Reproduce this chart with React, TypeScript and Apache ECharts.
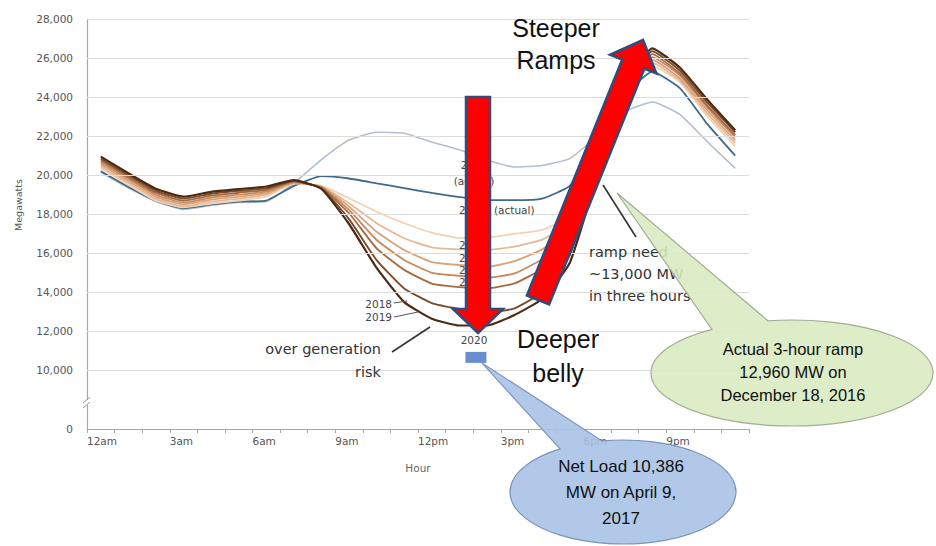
import React, { useEffect, useRef } from 'react';
import * as echarts from 'echarts';

// Hour-ending sample positions (half past each hour)
const HOURS = [0.5, 1.5, 2.5, 3.5, 4.5, 5.5, 6.5, 7.5, 8.5, 9.5, 10.5, 11.5, 12.5, 13.5, 14.5, 15.5, 16.5, 17.5, 18.5, 19.5, 20.5, 21.5, 22.5, 23.5];
const HOUR_LABELS = ['12am', '3am', '6am', '9am', '12pm', '3pm', '6pm', '9pm'];
const MW_TICKS = [10000, 12000, 14000, 16000, 18000, 20000, 22000, 24000, 26000, 28000];
// Bottom of the broken axis, labelled 0
const AXIS_FLOOR = 7000;

const NET_LOAD_2012 = [20150, 19350, 18650, 18250, 18450, 18600, 18650, 19600, 20800, 21800, 22200, 22150, 21700, 21300, 20780, 20420, 20500, 20850, 22000, 23250, 23750, 23100, 21700, 20350];
const NET_LOAD_2013 = [20200, 19400, 18700, 18300, 18500, 18650, 18700, 19450, 19950, 19830, 19580, 19340, 19090, 18880, 18720, 18720, 18800, 19450, 21500, 24100, 25300, 24450, 22600, 21000];
const NET_LOAD_2014 = [20350, 19500, 18700, 18350, 18550, 18700, 18900, 19580, 19450, 18820, 18130, 17540, 17060, 16780, 16800, 17000, 17200, 17900, 21300, 24200, 25600, 24750, 23000, 21500];
const NET_LOAD_2015 = [20450, 19600, 18800, 18400, 18650, 18800, 19000, 19600, 19420, 18560, 17540, 16770, 16300, 16200, 16170, 16340, 16700, 17600, 21000, 24200, 25750, 24850, 23150, 21650];
const NET_LOAD_2016 = [20550, 19700, 18900, 18500, 18750, 18900, 19080, 19620, 19400, 18390, 17100, 16170, 15550, 15400, 15300, 15600, 16200, 17300, 20800, 24300, 25900, 24950, 23300, 21800];
const NET_LOAD_2017 = [20650, 19800, 19000, 18600, 18850, 19000, 19170, 19650, 19380, 18220, 16680, 15660, 15000, 14850, 14750, 14970, 15700, 17000, 20600, 24300, 26050, 25100, 23450, 21950];
const NET_LOAD_2018 = [20750, 19900, 19100, 18700, 18950, 19100, 19250, 19680, 19350, 18050, 16250, 15150, 14450, 14270, 14200, 14460, 15200, 16600, 20400, 24400, 26200, 25200, 23550, 22050];
const NET_LOAD_2019 = [20850, 20000, 19200, 18800, 19050, 19200, 19330, 19700, 19320, 17750, 15650, 14200, 13450, 13150, 12950, 13180, 14000, 15900, 20200, 24400, 26350, 25350, 23700, 22200];
const NET_LOAD_2020 = [20950, 20100, 19300, 18900, 19150, 19290, 19420, 19750, 19300, 17500, 15250, 13500, 12650, 12300, 12300, 12840, 13660, 15500, 20000, 24500, 26500, 25500, 23850, 22300];

const SERIES_NAMES = ['2012 (actual)', '2013 (actual)', '2014', '2015', '2016', '2017', '2018', '2019', '2020'];
const SERIES_VALUES = [NET_LOAD_2012, NET_LOAD_2013, NET_LOAD_2014, NET_LOAD_2015, NET_LOAD_2016, NET_LOAD_2017, NET_LOAD_2018, NET_LOAD_2019, NET_LOAD_2020];
const SERIES_COLORS = ['#b3bfcd', '#3f6a8e', '#f1d2b6', '#e6b994', '#d9a27a', '#c6895d', '#a56a40', '#7c4b29', '#4a2b15'];
const SERIES_WIDTHS = [1.6, 1.8, 1.8, 1.8, 1.8, 1.8, 1.8, 1.9, 2.2];

// Minimum net load observed on April 9, 2017
const APRIL_2017_HOUR = 14.1;
const APRIL_2017_MW = 10386;

const CHART_FONT = '"DejaVu Sans", Lato, sans-serif';
const CALLOUT_FONT = '"Liberation Sans", Arial, sans-serif';

const withCommas = (v: number) => String(v).replace(/\B(?=(\d{3})+(?!\d))/g, ',');

// Ellipse callout with a wedge tail, as one closed path
function calloutPath(tip: number[], cx: number, cy: number, rx: number, ry: number, x1: number, x2: number) {
  const topY = (x: number) => cy - ry * Math.sqrt(1 - ((x - cx) / rx) ** 2);
  const y1 = topY(x1);
  const y2 = topY(x2);
  return `M ${tip[0]} ${tip[1]} L ${x1} ${y1} A ${rx} ${ry} 0 1 0 ${x2} ${y2} Z`;
}

function arrowPoints(tail: number[], tip: number[], shaftHalf: number, headHalf: number, headLen: number) {
  const dx = tip[0] - tail[0];
  const dy = tip[1] - tail[1];
  const len = Math.hypot(dx, dy);
  const ux = dx / len, uy = dy / len;
  const px = -uy, py = ux;
  const bx = tip[0] - ux * headLen, by = tip[1] - uy * headLen;
  return [
    [tail[0] - px * shaftHalf, tail[1] - py * shaftHalf],
    [bx - px * shaftHalf, by - py * shaftHalf],
    [bx - px * headHalf, by - py * headHalf],
    [tip[0], tip[1]],
    [bx + px * headHalf, by + py * headHalf],
    [bx + px * shaftHalf, by + py * shaftHalf],
    [tail[0] + px * shaftHalf, tail[1] + py * shaftHalf],
  ];
}

function txt(text: string, x: number, y: number, size: number, align: string, opts: any = {}) {
  return {
    type: 'text',
    x,
    y,
    z: opts.z ?? 40,
    silent: true,
    rotation: opts.rotation ?? 0,
    style: {
      text,
      fill: opts.fill ?? '#444',
      fontSize: size,
      fontFamily: opts.font ?? CHART_FONT,
      textAlign: align,
      align,
      textVerticalAlign: 'middle',
      verticalAlign: 'middle',
    },
  };
}

function seg(x1: number, y1: number, x2: number, y2: number, color = '#333', width = 1.2, z = 40) {
  return { type: 'line', z, silent: true, shape: { x1, y1, x2, y2 }, style: { stroke: color, lineWidth: width } };
}

export default function App() {
  const ref = useRef<HTMLDivElement>(null);

  useEffect(() => {
    if (!ref.current) return;
    const chart = echarts.init(ref.current, null, { renderer: 'svg' });

    const lineSeries = SERIES_VALUES.map((vals, i) => ({
      name: SERIES_NAMES[i],
      type: 'line',
      data: HOURS.map((h, j) => [h, vals[j]]),
      symbol: 'none',
      silent: true,
      smooth: 0.15,
      z: 3,
      lineStyle: { color: SERIES_COLORS[i], width: SERIES_WIDTHS[i] },
      itemStyle: { color: SERIES_COLORS[i] },
    }));

    chart.setOption({
      animation: false,
      backgroundColor: '#ffffff',
      grid: { left: 87, right: 187, top: 19, bottom: 117 },
      xAxis: {
        type: 'value',
        min: 0,
        max: 24,
        interval: 1,
        name: 'Hour',
        nameLocation: 'middle',
        nameGap: 33,
        nameTextStyle: { color: '#666', fontSize: 10.5, fontFamily: CHART_FONT },
        axisLine: { show: true, lineStyle: { color: '#a8a8a8', width: 1.2 } },
        axisTick: { show: true, length: 4, lineStyle: { color: '#a8a8a8' } },
        splitLine: { show: false },
        axisLabel: {
          color: '#555',
          fontSize: 10.5,
          fontFamily: CHART_FONT,
          align: 'left',
          margin: 6,
          formatter: (v: number) => (v % 3 === 0 && v < 24 ? HOUR_LABELS[v / 3] : ''),
        },
      },
      yAxis: {
        type: 'value',
        min: AXIS_FLOOR,
        max: 28000,
        interval: 1000,
        axisLine: { show: true, lineStyle: { color: '#a8a8a8', width: 1.2 } },
        axisTick: { show: false },
        splitLine: { show: false },
        axisLabel: {
          color: '#555',
          fontSize: 10.5,
          fontFamily: CHART_FONT,
          margin: 14,
          formatter: (v: number) => (v === AXIS_FLOOR ? '0' : MW_TICKS.includes(v) ? withCommas(v) : ''),
        },
      },
      series: [
        {
          name: 'gridlines',
          type: 'line',
          data: [],
          z: 1,
          silent: true,
          markLine: {
            silent: true,
            symbol: ['none', 'none'],
            label: { show: false },
            lineStyle: { color: '#dcdcdc', type: 'solid', width: 1.2 },
            data: MW_TICKS.map((v) => ({ yAxis: v })),
          },
        },
        ...lineSeries,
        {
          name: 'April 9, 2017',
          type: 'scatter',
          data: [[APRIL_2017_HOUR, APRIL_2017_MW]],
          symbol: 'rect',
          symbolSize: [21, 11],
          symbolOffset: [0, -5.5],
          silent: true,
          z: 5,
          itemStyle: { color: '#4472c4' },
        },
      ],
    });

    const marker = chart.convertToPixel({ gridIndex: 0 }, [APRIL_2017_HOUR, APRIL_2017_MW]) as number[];

    echarts.graphic.registerShape(
      'netLoadCallout',
      echarts.graphic.extendPath(calloutPath([marker[0] + 6, marker[1]], 623, 492, 113, 52, 560, 602), {}) as any
    );
    echarts.graphic.registerShape(
      'rampCallout',
      echarts.graphic.extendPath(calloutPath([617, 193], 792, 373, 141, 53, 712, 768), {}) as any
    );

    const arrowStyle = { fill: '#ff0000', stroke: '#2f4c7c', lineWidth: 2.5, lineJoin: 'miter' };

    chart.setOption({
      graphic: [
        // axis break on the value axis
        { type: 'rect', z: 30, silent: true, shape: { x: 83, y: 400, width: 8, height: 5 }, style: { fill: '#fff' } },
        seg(83, 403, 90, 397, '#999', 1),
        seg(83, 408, 90, 402, '#999', 1),
        txt('Megawatts', 18, 205, 9.5, 'center', { rotation: Math.PI / 2, fill: '#555' }),

        // year labels along the belly
        txt('2012', 474, 165, 10.5, 'center'),
        txt('(actual)', 474, 181, 10.5, 'center'),
        txt('2013', 459, 210, 10.5, 'left'),
        txt('(actual)', 494, 210, 10.5, 'left'),
        txt('2014', 459, 245, 10.5, 'left'),
        txt('2015', 459, 258, 10.5, 'left'),
        txt('2016', 459, 270, 10.5, 'left'),
        txt('2017', 459, 282, 10.5, 'left'),
        txt('2018', 392, 304, 10.5, 'right'),
        txt('2019', 392, 317, 10.5, 'right'),
        seg(394, 303, 407, 301, '#555', 1),
        seg(394, 317, 418, 312, '#555', 1),
        txt('2020', 474, 340, 10.5, 'center'),

        txt('over generation', 381, 349, 14.5, 'right', { fill: '#333' }),
        txt('risk', 381, 372, 14.5, 'right', { fill: '#333' }),
        seg(392, 352, 430, 327, '#333', 1.6),

        txt('ramp need', 589, 252, 14.5, 'left', { fill: '#333' }),
        txt('~13,000 MW', 589, 274, 14.5, 'left', { fill: '#333' }),
        txt('in three hours', 589, 296, 14.5, 'left', { fill: '#333' }),
        seg(603, 185, 636, 237, '#333', 1.6),

        // red arrows
        {
          type: 'polygon',
          z: 100,
          silent: true,
          shape: { points: [[466, 97], [490, 97], [490, 309], [503, 309], [478, 333], [453, 309], [466, 309]] },
          style: arrowStyle,
        },
        {
          type: 'polygon',
          z: 100,
          silent: true,
          shape: { points: arrowPoints([538, 300], [643, 40], 12, 25, 26) },
          style: arrowStyle,
        },

        txt('Steeper', 556, 28, 25, 'center', { font: CALLOUT_FONT, fill: '#111', z: 110 }),
        txt('Ramps', 556, 60, 25, 'center', { font: CALLOUT_FONT, fill: '#111', z: 110 }),
        txt('Deeper', 558, 339, 25, 'center', { font: CALLOUT_FONT, fill: '#111', z: 110 }),
        txt('belly', 558, 373, 25, 'center', { font: CALLOUT_FONT, fill: '#111', z: 110 }),

        // callouts
        {
          type: 'netLoadCallout',
          x: 0,
          y: 0,
          z: 120,
          silent: true,
          style: { fill: '#a8c2e5', stroke: '#6f8db4', lineWidth: 1.2, opacity: 0.9 },
        },
        txt('Net Load 10,386', 621, 466, 17, 'center', { font: CALLOUT_FONT, fill: '#111', z: 125 }),
        txt('MW on April 9,', 621, 492, 17, 'center', { font: CALLOUT_FONT, fill: '#111', z: 125 }),
        txt('2017', 621, 518, 17, 'center', { font: CALLOUT_FONT, fill: '#111', z: 125 }),
        {
          type: 'rampCallout',
          x: 0,
          y: 0,
          z: 120,
          silent: true,
          style: { fill: '#d7eabf', stroke: '#9aa28c', lineWidth: 1.2, opacity: 0.88 },
        },
        txt('Actual 3-hour ramp', 793, 349, 16.5, 'center', { font: CALLOUT_FONT, fill: '#111', z: 125 }),
        txt('12,960 MW on', 793, 372, 16.5, 'center', { font: CALLOUT_FONT, fill: '#111', z: 125 }),
        txt('December 18, 2016', 793, 395, 16.5, 'center', { font: CALLOUT_FONT, fill: '#111', z: 125 }),
      ],
    });

    return () => chart.dispose();
  }, []);

  return (
    <div
      ref={ref}
      style={{ position: 'fixed', left: 0, top: 0, width: 936, height: 546, background: '#fff' }}
    />
  );
}
